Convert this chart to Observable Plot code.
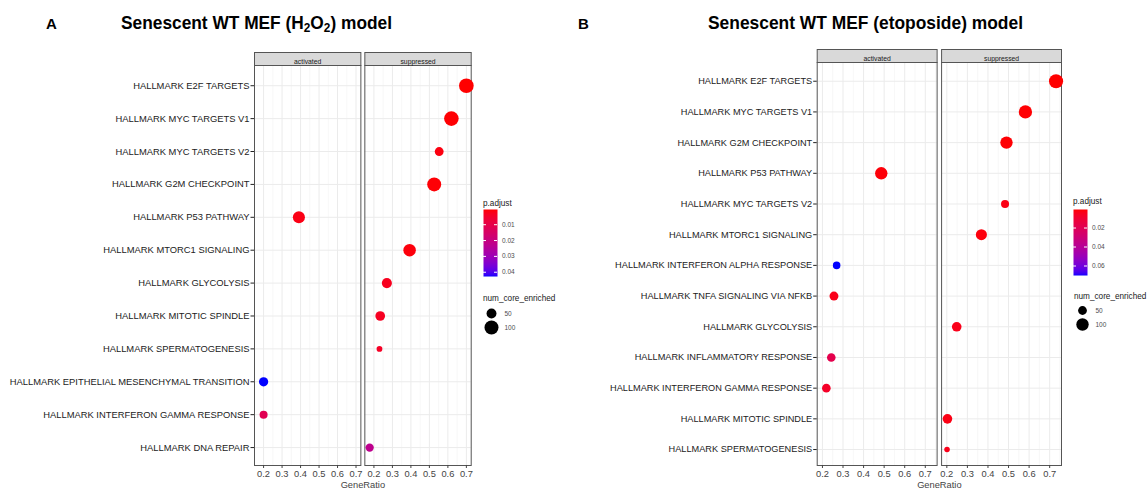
<!DOCTYPE html>
<html>
<head>
<meta charset="utf-8">
<script src="https://cdn.jsdelivr.net/npm/d3@7"></script>
<script src="https://cdn.jsdelivr.net/npm/@observablehq/plot@0.6"></script>
<style>
  body { margin: 0; background: #fff; font-family: "Liberation Sans", Arial, sans-serif; }
  #root { position: relative; width: 1148px; height: 488px; overflow: hidden; background: #fff; }
  .abs { position: absolute; }
  .tag { font-weight: bold; font-size: 15px; line-height: 15px; color: #000; }
  .title { font-weight: bold; font-size: 19px; line-height: 19px; color: #000; white-space: nowrap; transform-origin: 0 0; }
  .title sub { font-size: 13px; line-height: 0; vertical-align: -3px; }
  .legtitle { font-size: 8.2px; line-height: 9px; color: #1a1a1a; white-space: nowrap; }
</style>
</head>
<body>
<div id="root"></div>
<script>
// ---------- shared ----------
const facets = ["activated", "suppressed"];
const xTicks = [0.2, 0.3, 0.4, 0.5, 0.6, 0.7];
const xMinorTicks = [0.15, 0.25, 0.35, 0.45, 0.55, 0.65, 0.75];
const sizeBreaks = [50, 100];

// ---------- Panel A: Senescent WT MEF (H2O2) model ----------
const termsA = [
  "HALLMARK E2F TARGETS", "HALLMARK MYC TARGETS V1", "HALLMARK MYC TARGETS V2",
  "HALLMARK G2M CHECKPOINT", "HALLMARK P53 PATHWAY", "HALLMARK MTORC1 SIGNALING",
  "HALLMARK GLYCOLYSIS", "HALLMARK MITOTIC SPINDLE", "HALLMARK SPERMATOGENESIS",
  "HALLMARK EPITHELIAL MESENCHYMAL TRANSITION", "HALLMARK INTERFERON GAMMA RESPONSE",
  "HALLMARK DNA REPAIR"
];
const directionA = ["suppressed", "suppressed", "suppressed", "suppressed", "activated", "suppressed",
  "suppressed", "suppressed", "suppressed", "activated", "activated", "suppressed"];
const geneRatioA = [0.700, 0.619, 0.553, 0.526, 0.391, 0.393, 0.270, 0.234, 0.230, 0.200, 0.200, 0.177];
const pAdjustA = [0.0004, 0.0006, 0.0015, 0.0008, 0.0020, 0.0012, 0.0030, 0.0035, 0.0040, 0.0427, 0.0115, 0.0225];
const coreEnrichedA = [110, 108, 40, 100, 75, 80, 52, 48, 17, 44, 33, 35];
const pTicksA = [0.01, 0.02, 0.03, 0.04];

// ---------- Panel B: Senescent WT MEF (etoposide) model ----------
const termsB = [
  "HALLMARK E2F TARGETS", "HALLMARK MYC TARGETS V1", "HALLMARK G2M CHECKPOINT",
  "HALLMARK P53 PATHWAY", "HALLMARK MYC TARGETS V2", "HALLMARK MTORC1 SIGNALING",
  "HALLMARK INTERFERON ALPHA RESPONSE", "HALLMARK TNFA SIGNALING VIA NFKB", "HALLMARK GLYCOLYSIS",
  "HALLMARK INFLAMMATORY RESPONSE", "HALLMARK INTERFERON GAMMA RESPONSE",
  "HALLMARK MITOTIC SPINDLE", "HALLMARK SPERMATOGENESIS"
];
const directionB = ["suppressed", "suppressed", "suppressed", "activated", "suppressed", "suppressed",
  "activated", "activated", "suppressed", "activated", "activated", "suppressed", "suppressed"];
const geneRatioB = [0.731, 0.582, 0.490, 0.486, 0.483, 0.368, 0.269, 0.256, 0.248, 0.243, 0.219, 0.203, 0.201];
const pAdjustB = [0.0005, 0.0008, 0.0010, 0.0015, 0.0030, 0.0020, 0.0700, 0.0040, 0.0040, 0.0170, 0.0070, 0.0030, 0.0040];
const coreEnrichedB = [130, 115, 100, 100, 42, 80, 37, 52, 60, 48, 48, 60, 20];
const pTicksB = [0.02, 0.04, 0.06];

// ---------- helpers ----------
const FONT = "Liberation Sans, Arial, sans-serif";
const root = document.getElementById("root");

function place(node, left, top) {
  node.classList.add("abs");
  node.style.left = left + "px";
  node.style.top = top + "px";
  root.appendChild(node);
  return node;
}
function div(cls, html, left, top) {
  const d = document.createElement("div");
  d.className = cls;
  d.innerHTML = html;
  return place(d, left, top);
}
function expand([a, b]) { const e = (b - a) * 0.05; return [a - e, b + e]; }

function colorScale(p) {
  return { type: "linear", domain: d3.extent(p), range: ["#ff0000", "#0000ff"], interpolate: d3.interpolateLab };
}

function dotPanel(cfg) {
  const rows = cfg.terms.map((t, i) => ({
    term: t, dir: cfg.direction[i], ratio: cfg.ratio[i], p: cfg.p[i], n: cfg.n[i]
  }));
  const xDomain = expand(d3.extent(cfg.ratio));
  const minor = xMinorTicks.filter(v => v >= xDomain[0] && v <= xDomain[1]);
  const innerH = cfg.height - cfg.marginTop - cfg.marginBottom;
  return Plot.plot({
    width: cfg.width, height: cfg.height,
    marginLeft: cfg.marginLeft, marginRight: cfg.marginRight,
    marginTop: cfg.marginTop, marginBottom: cfg.marginBottom,
    style: { background: "transparent", fontFamily: FONT, overflow: "visible" },
    x: { domain: xDomain },
    y: { type: "point", domain: cfg.terms, padding: cfg.yPadding, align: cfg.yAlign, round: false },
    fx: { domain: facets, paddingInner: 0.036, paddingOuter: 0, round: false, axis: null, label: null },
    color: colorScale(cfg.p),
    r: { domain: [0, 100], range: [0, cfg.r100] },
    marks: [
      Plot.gridX(minor, { stroke: "#f3f3f3", strokeOpacity: 1, strokeWidth: 0.7 }),
      Plot.gridX(xTicks, { stroke: "#ebebeb", strokeOpacity: 1, strokeWidth: 1 }),
      Plot.gridY(cfg.terms, { stroke: "#ebebeb", strokeOpacity: 1, strokeWidth: 1 }),
      Plot.frame({ stroke: "#555", strokeWidth: 1 }),
      Plot.frame({ fill: "#d9d9d9", stroke: "#555", strokeWidth: 1, insetTop: -cfg.strip, insetBottom: innerH }),
      Plot.text(facets, { fx: d => d, text: d => d, frameAnchor: "top", dy: -cfg.strip / 2, fontSize: 6.8, fill: "#1a1a1a" }),
      Plot.axisX({ ticks: xTicks, tickFormat: d3.format(".1f"), tickSize: 3, tickPadding: 1.5, fontSize: 9.3,
        color: "#444", label: "GeneRatio", labelAnchor: "center", labelArrow: "none", labelOffset: 22 }),
      Plot.axisY({ tickSize: 3.5, tickPadding: 1.5, fontSize: cfg.yFont, color: "#222", label: null }),
      Plot.dot(rows, { x: "ratio", y: "term", fx: "dir", r: "n", fill: "p" })
    ]
  });
}

function colorBar(cfg) {
  const [lo, hi] = d3.extent(cfg.p);
  return Plot.plot({
    width: 14 + 34, height: cfg.barH,
    marginLeft: 0, marginRight: 34, marginTop: 0, marginBottom: 0,
    style: { background: "transparent", fontFamily: FONT, overflow: "visible" },
    x: { domain: [0, 1], axis: null },
    y: { domain: [lo, hi], reverse: true, axis: null },
    color: colorScale(cfg.p),
    marks: [
      Plot.raster({ fill: (x, y) => y, x1: 0, x2: 1, y1: lo, y2: hi, width: 2, height: 200 }),
      Plot.tickY(cfg.pTicks, { y: d => d, stroke: "white", insetRight: 11 }),
      Plot.tickY(cfg.pTicks, { y: d => d, stroke: "white", insetLeft: 11 }),
      Plot.axisY(cfg.pTicks, { anchor: "right", tickSize: 0, tickPadding: 4.5, fontSize: 6.5,
        tickFormat: d3.format(".2f"), color: "#4d4d4d", label: null })
    ]
  });
}

function sizeLegend(cfg) {
  return Plot.plot({
    width: 70, height: 28,
    marginLeft: 0, marginRight: 0, marginTop: 7, marginBottom: 7,
    style: { background: "transparent", fontFamily: FONT, overflow: "visible" },
    y: { type: "point", domain: sizeBreaks, padding: 0, round: false, axis: null },
    r: { domain: [0, 100], range: [0, cfg.r100] },
    marks: [
      Plot.dot(sizeBreaks, { y: d => d, r: d => d, fill: "black", frameAnchor: "left", dx: 8 }),
      Plot.text(sizeBreaks, { y: d => d, text: d => String(d), frameAnchor: "left", dx: 21,
        textAnchor: "start", fontSize: 6.5, fill: "#4d4d4d" })
    ]
  });
}

// ---------- Panel A ----------
const cfgA = {
  terms: termsA, direction: directionA, ratio: geneRatioA, p: pAdjustA, n: coreEnrichedA,
  width: 480, height: 448, marginLeft: 254, marginRight: 9.3, marginTop: 25, marginBottom: 23,
  yPadding: 0.58, yAlign: 0.53, strip: 13, r100: 7, yFont: 9.4, pTicks: pTicksA, barH: 67
};
place(dotPanel(cfgA), 0, 40);
div("tag", "A", 46, 15.5);
const tA = div("title", "Senescent WT MEF (H<sub>2</sub>O<sub>2</sub>) model", 121, 13);
div("legtitle", "p.adjust", 483, 198.5);
place(colorBar(cfgA), 483, 209);
div("legtitle", "num_core_enriched", 483, 293.5);
place(sizeLegend(cfgA), 483, 306);

// ---------- Panel B ----------
const cfgB = {
  terms: termsB, direction: directionB, ratio: geneRatioB, p: pAdjustB, n: coreEnrichedB,
  width: 470, height: 448, marginLeft: 216.7, marginRight: 9, marginTop: 22, marginBottom: 23,
  yPadding: 0.565, yAlign: 0.54, strip: 13, r100: 6.2, yFont: 9.2, pTicks: pTicksB, barH: 66
};
place(dotPanel(cfgB), 600, 40);
div("tag", "B", 578, 15.5);
const tB = div("title", "Senescent WT MEF (etoposide) model", 708, 13);
div("legtitle", "p.adjust", 1073, 196.5);
place(colorBar(cfgB), 1073.3, 209);
div("legtitle", "num_core_enriched", 1074, 291.5);
place(sizeLegend(cfgB), 1074, 303);

// fit titles to the reference widths (the original title font is slightly condensed)
function fitWidth(node, target) {
  const w = node.getBoundingClientRect().width;
  if (w > 0) node.style.transform = `scaleX(${target / w})`;
}
fitWidth(tA, 271);
fitWidth(tB, 315);
</script>
</body>
</html>
